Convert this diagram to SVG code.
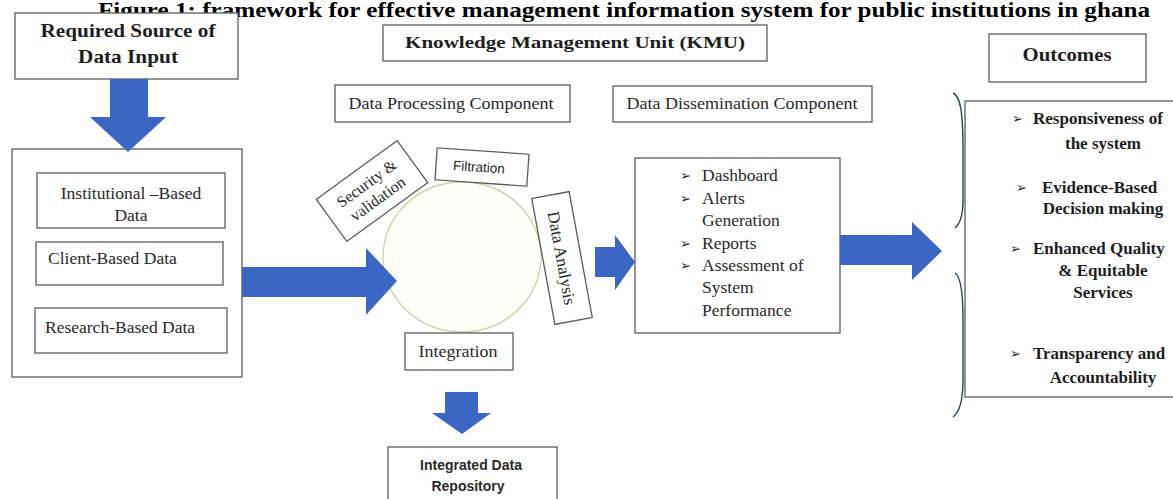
<svg xmlns="http://www.w3.org/2000/svg" width="1173" height="499" viewBox="0 0 1173 499">
  <style>
    .box { fill: #ffffff; stroke: #5c5c5c; stroke-width: 1.3; }
    .arrow { fill: #3b67c4; }
    .serif { font-family: "Liberation Serif", "Times New Roman", serif; fill: #2a2a2a; }
    .head { font-family: "Liberation Serif", "Times New Roman", serif; font-weight: bold; fill: #1e1e1e; }
    .sans { font-family: "Liberation Sans", Arial, sans-serif; fill: #2a2a2a; }
    .bullet { font-family: "DejaVu Sans", sans-serif; fill: #2a2a2a; }
    .brace { fill: none; stroke: #2e3f58; stroke-width: 1.4; }
  </style>

  <!-- Title -->
  <text x="98" y="17" font-family="Liberation Serif, serif" font-weight="bold" font-size="21" fill="#000" textLength="1052" lengthAdjust="spacingAndGlyphs">Figure 1: framework for effective management information system for public institutions in ghana</text>

  <!-- Input side -->
  <g id="source-header">
    <rect class="box" x="15" y="13" width="223" height="66"/>
    <text class="head" x="128" y="37" font-size="19" text-anchor="middle" textLength="175" lengthAdjust="spacingAndGlyphs">Required Source of</text>
    <text class="head" x="128" y="63" font-size="19" text-anchor="middle" textLength="100" lengthAdjust="spacingAndGlyphs">Data Input</text>
  </g>

  <g id="data-sources">
    <rect class="box" x="12" y="149" width="230" height="228"/>
    <rect class="box" x="37" y="173" width="188" height="55"/>
    <text class="serif" x="131" y="199" font-size="17.5" text-anchor="middle">Institutional –Based</text>
    <text class="serif" x="131" y="221" font-size="17.5" text-anchor="middle">Data</text>
    <rect class="box" x="36" y="242" width="187" height="43"/>
    <text class="serif" x="48" y="264" font-size="17.5">Client-Based Data</text>
    <rect class="box" x="35" y="308" width="192" height="45"/>
    <text class="serif" x="45" y="333" font-size="17.5">Research-Based Data</text>
  </g>

  <!-- Knowledge management unit headers -->
  <g id="kmu">
    <rect class="box" x="383" y="25" width="384" height="36"/>
    <text class="head" x="575" y="48" font-size="17" text-anchor="middle" textLength="340" lengthAdjust="spacingAndGlyphs">Knowledge Management Unit (KMU)</text>
  </g>
  <g id="processing-header">
    <rect class="box" x="335" y="85" width="235" height="37"/>
    <text class="serif" x="451" y="109" font-size="17" text-anchor="middle" textLength="205" lengthAdjust="spacingAndGlyphs">Data Processing Component</text>
  </g>
  <g id="dissemination-header">
    <rect class="box" x="613" y="86" width="259" height="36"/>
    <text class="serif" x="742" y="109" font-size="17" text-anchor="middle" textLength="231" lengthAdjust="spacingAndGlyphs">Data Dissemination Component</text>
  </g>

  <!-- Processing cycle -->
  <g id="cycle">
    <ellipse cx="462" cy="257" rx="79" ry="75" fill="#fffffa" stroke="#cfcfae" stroke-width="1.3"/>
  </g>
  <g id="security" transform="translate(372 191) rotate(-36)">
    <rect class="box" x="-50" y="-26" width="100" height="52"/>
    <text class="serif" x="0" y="-4" font-size="16" text-anchor="middle">Security &amp;</text>
    <text class="serif" x="0" y="15" font-size="16" text-anchor="middle">validation</text>
  </g>
  <g id="filtration" transform="translate(482 167) rotate(4)">
    <rect class="box" x="-46" y="-16" width="92" height="32"/>
    <text class="sans" x="-3" y="5" font-size="13.5" text-anchor="middle">Filtration</text>
  </g>
  <g id="analysis" transform="translate(562 258) rotate(79.6)">
    <rect class="box" x="-64" y="-19" width="128" height="38"/>
    <text class="serif" x="0" y="6" font-size="17" text-anchor="middle">Data Analysis</text>
  </g>
  <g id="integration">
    <rect class="box" x="405" y="333" width="108" height="37"/>
    <text class="serif" x="458" y="357" font-size="16" text-anchor="middle" textLength="79" lengthAdjust="spacingAndGlyphs">Integration</text>
  </g>
  <g id="repository">
    <rect class="box" x="388" y="447" width="169" height="60"/>
    <text class="sans" x="471" y="470" font-size="14" font-weight="bold" text-anchor="middle">Integrated Data</text>
    <text class="sans" x="468" y="491" font-size="14" font-weight="bold" text-anchor="middle">Repository</text>
  </g>

  <!-- Dissemination outputs -->
  <g id="outputs">
    <rect class="box" x="635" y="158" width="205" height="175"/>
    <g class="bullet" font-size="13">
      <text x="680" y="180">➢</text>
      <text x="680" y="203">➢</text>
      <text x="680" y="248">➢</text>
      <text x="680" y="270">➢</text>
    </g>
    <g class="serif" font-size="17.5">
      <text x="702" y="181">Dashboard</text>
      <text x="702" y="204">Alerts</text>
      <text x="702" y="226">Generation</text>
      <text x="702" y="249">Reports</text>
      <text x="702" y="271">Assessment of</text>
      <text x="702" y="293">System</text>
      <text x="702" y="316">Performance</text>
    </g>
  </g>

  <!-- Outcomes -->
  <g id="outcomes-header">
    <rect class="box" x="989" y="34" width="157" height="48"/>
    <text class="head" x="1067" y="61" font-size="19" text-anchor="middle" textLength="89" lengthAdjust="spacingAndGlyphs">Outcomes</text>
  </g>
  <g id="outcomes">
    <rect class="box" x="965" y="101" width="215" height="296"/>
    <g class="bullet" font-size="13">
      <text x="1012" y="123">➢</text>
      <text x="1016" y="192">➢</text>
      <text x="1010" y="253">➢</text>
      <text x="1010" y="358">➢</text>
    </g>
    <g class="head" font-size="17">
      <text x="1033" y="124">Responsiveness of</text>
      <text x="1103" y="149" text-anchor="middle">the system</text>
      <text x="1042" y="193">Evidence-Based</text>
      <text x="1103" y="214" text-anchor="middle">Decision making</text>
      <text x="1033" y="254">Enhanced Quality</text>
      <text x="1103" y="276" text-anchor="middle">&amp; Equitable</text>
      <text x="1103" y="298" text-anchor="middle">Services</text>
      <text x="1033" y="359">Transparency and</text>
      <text x="1103" y="383" text-anchor="middle">Accountability</text>
    </g>
  </g>

  <!-- Connectors: block arrows and grouping brace -->
  <g id="connectors">
    <polygon class="arrow" points="110,79 148,79 148,117 166,117 128,152 90,117 110,117"/>
    <polygon class="arrow" points="242,267 366,267 366,248 397,281 366,315 366,297 242,297"/>
    <polygon class="arrow" points="595,247 615,247 615,235 635,262 615,290 615,277 595,277"/>
    <polygon class="arrow" points="840,235 912,235 912,222 942,251 912,280 912,265 840,265"/>
    <polygon class="arrow" points="445,392 478,392 478,413 491,413 462,434 432,413 445,413"/>
    <path class="brace" d="M953,93 C960,96 963,110 963,150 L963,200 C963,215 960,224 955,228"/>
    <path class="brace" d="M955,273 C960,276 963,290 963,320 L963,380 C963,400 960,412 953,417"/>
  </g>
</svg>
